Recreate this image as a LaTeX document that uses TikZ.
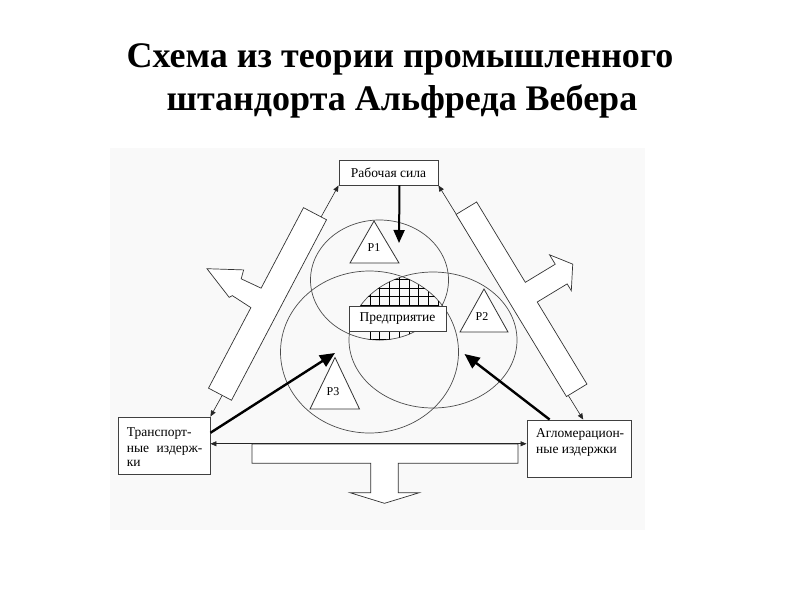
\documentclass[tikz,border=0pt]{standalone}
\usepackage{fontspec}
\setmainfont{Liberation Serif}
\usetikzlibrary{arrows.meta,calc}
\begin{document}
\begin{tikzpicture}[x=1pt,y=-1pt,
  title/.style={font=\fontsize{36}{42}\selectfont\bfseries,inner sep=0pt},
  box/.style={draw=black!75,line width=0.9pt,fill=white,inner sep=0pt,font=\fontsize{13.5}{15.5}\selectfont},
  boxtext/.style={inner sep=0pt,anchor=base west,font=\fontsize{13.5}{15.5}\selectfont},
  ring/.style={draw=black!70,line width=0.7pt},
  gridline/.style={draw=black,line width=0.6pt},
  tri/.style={draw=black!80,line width=0.8pt,fill=white},
  hollow/.style={draw=black!80,line width=0.7pt,fill=white,line join=miter},
  thinarrow/.style={draw=black!85,line width=0.6pt,{Triangle[length=6pt,width=5pt]}-{Triangle[length=6pt,width=5pt]}},
  thickarrow/.style={draw=black,line width=2.4pt,-{Triangle[length=15pt,width=13pt]}},
  downarrow/.style={draw=black,line width=2pt,-{Triangle[length=13pt,width=11pt]}},
  lbl/.style={font=\fontsize{12}{14}\selectfont,inner sep=0pt}
]
\useasboundingbox (0,0) rectangle (800,600);
\fill[white] (0,0) rectangle (800,600);
\fill[white!97.5!black] (110,148) rectangle (645,530);

% title
\node[title,anchor=base] (t1) at (400,67.7) {Схема из теории промышленного};
\node[title,anchor=base] (t2) at (402,110.8) {штандорта Альфреда Вебера};

% circles
\draw[ring] (379.5,280) ellipse [x radius=69pt, y radius=60pt];
\draw[ring] (433,340) ellipse [x radius=84pt, y radius=68pt];
\draw[ring] (369.5,352) ellipse [x radius=89pt, y radius=81pt];

% hatched intersection
\begin{scope}
\clip (379.5,280) ellipse [x radius=69pt, y radius=60pt];
\clip (433,340) ellipse [x radius=84pt, y radius=68pt];
\clip (369.5,352) ellipse [x radius=89pt, y radius=81pt];
\clip (340,260) rectangle (439,350);
\foreach \x in {370,379.7,389.4,399.1,408.8,418.5,428.2,437.9} \draw[gridline] (\x,260) -- (\x,350);
\foreach \y in {279.5,288,296.5,305,313.5,322,330.5,339} \draw[gridline] (340,\y) -- (440,\y);
\end{scope}

% triangles
\draw[tri] (374,221) -- (399,263) -- (350,263) -- cycle;
\draw[tri] (484,289) -- (508,332) -- (460,332) -- cycle;
\draw[tri] (335,357.5) -- (359.5,409) -- (310,409) -- cycle;
\node[lbl] (l1) at (374,248) {Р1};
\node[lbl] (l2) at (482,317) {Р2};
\node[lbl] (l3) at (333,392) {Р3};

% boxes
\node[box,minimum width=99pt,minimum height=25pt] (rab) at (388.5,172.5) {Рабочая сила};
\node[box,minimum width=97pt,minimum height=25pt] (pred) at (397.5,318.5) {Предприятие};
\node[box,minimum width=92pt,minimum height=57pt] (trans) at (164,445.5) {};
\node[box,minimum width=104pt,minimum height=57pt] (aglo) at (579,448.5) {};
\node[boxtext] (tr1) at (126.7,436.2) {Транспорт-};
\node[boxtext] (tr2) at (126.7,452) {ные\hspace{7.5pt}издерж-};
\node[boxtext] (tr3) at (126.7,466.5) {ки};
\node[boxtext] (ag1) at (536,437.6) {Агломерацион-};
\node[boxtext] (ag2) at (536,453.6) {ные издержки};

% thin double arrows
\draw[thinarrow] (trans.north east) -- (rab.south west);
\draw[thinarrow] (rab.south east) -- ($(aglo.north west)!0.54!(aglo.north east)$);

% hollow bars
\begin{scope}[shift={(220,394.2)}, x={(0.4657pt,0.8848pt)}, y={(-0.8848pt,0.4657pt)}]
\draw[hollow] (0,13) -- (91,13) -- (93,35) -- (90,37) -- (105,70) -- (121,37) -- (112,35) -- (113,13) -- (204,13) -- (204,-13) -- (0,-13) -- cycle;
\end{scope}
\begin{scope}[shift={(576.7,390.3)}, x={(-0.518pt,0.855pt)}, y={(0.855pt,0.518pt)}]
\draw[hollow] (0,-12) -- (0,12) -- (96,12) -- (96,47) -- (88,47) -- (110,62) -- (130,47) -- (119,47) -- (119,12) -- (213,12) -- (213,-12) -- cycle;
\end{scope}

% T arrow and bottom double arrow
\draw[hollow] (252,444) -- (518,444) -- (518,463.3) -- (398.3,463.3) -- (398.3,492.7) -- (419.3,492.7) -- (384.5,503.3) -- (350,492.7) -- (370.7,492.7) -- (370.7,463.3) -- (252,463.3) -- cycle;
\coordinate (bl) at ($(trans.north east)!0.47!(trans.south east)$);
\draw[thinarrow] (bl) -- (bl -| aglo.west);

% thick arrows
\coordinate (p3tip) at (335,353);
\coordinate (ptip) at (464.5,354);
\coordinate (p1tip) at (399,243);
\draw[thickarrow] ($(trans.north east)!0.28!(trans.south east)$) -- (p3tip);
\draw[thickarrow] ($(aglo.north west)!0.22!(aglo.north east)$) -- (ptip);
\draw[downarrow] ($(rab.south west)!0.61!(rab.south east)$) -- (p1tip);
\end{tikzpicture}
\end{document}
